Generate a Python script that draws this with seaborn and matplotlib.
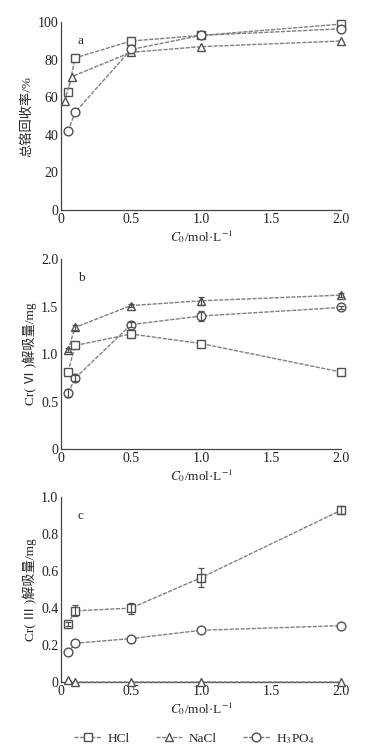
import matplotlib
matplotlib.use("Agg")
import matplotlib.pyplot as plt
from matplotlib.lines import Line2D
import seaborn as sns
import pandas as pd

# data
conc = [0.05, 0.1, 0.5, 1.0, 2.0]
conc_a_nacl = [0.025, 0.075, 0.5, 1.0, 2.0]

# panel a: total chromium recovery (%)
a_hcl = [63, 81, 90, 93, 99]
a_nacl = [58, 71, 84, 87, 90]
a_h3po4 = [42, 52, 85.5, 93, 96.5]

# panel b: Cr(VI) desorbed (mg)
b_hcl = [0.81, 1.09, 1.21, 1.11, 0.81]
b_nacl = [1.04, 1.28, 1.51, 1.56, 1.62]
b_h3po4 = [0.59, 0.745, 1.31, 1.40, 1.49]
b_err_nacl = [0.02, 0.03, 0.02, 0.04, 0.02]
b_err_h3po4 = [0.04, 0.03, 0.03, 0.05, 0.02]

# panel c: Cr(III) desorbed (mg)
c_hcl = [0.315, 0.385, 0.40, 0.565, 0.93]
c_nacl = [0.01, 0.0, 0.0, 0.0, 0.0]
c_h3po4 = [0.16, 0.21, 0.235, 0.28, 0.305]
c_err_hcl = [0.01, 0.03, 0.03, 0.05, 0.02]

series_names = ["HCl", "NaCl", "H$_3$PO$_4$"]
markers = ["s", "^", "o"]

sns.set_theme(style="white")
plt.rcParams["font.family"] = ["Liberation Serif", "Noto Sans CJK SC", "DejaVu Sans"]
plt.rcParams["mathtext.fontset"] = "stix"

fig = plt.figure(figsize=(3.89, 7.54), dpi=100)
ax_a = fig.add_axes([0.157, 0.7215, 0.72, 0.249])
ax_b = fig.add_axes([0.157, 0.4045, 0.72, 0.252])
ax_c = fig.add_axes([0.157, 0.0955, 0.72, 0.245])

line_col = "#808080"
edge_col = "#505050"


def draw(ax, xs, ys, errs=None):
    for x, y, m, e in zip(xs, ys, markers, errs or [None] * 3):
        df = pd.DataFrame({"x": x, "y": y})
        sns.lineplot(data=df, x="x", y="y", ax=ax, color=line_col, lw=1.0,
                     linestyle=(0, (3, 1)), marker=m, markersize=6.3,
                     markerfacecolor="white", markeredgecolor=edge_col,
                     markeredgewidth=1.0, clip_on=False, zorder=3)
        if e is not None:
            ax.errorbar(x, y, yerr=e, fmt="none", ecolor=edge_col,
                        elinewidth=0.9, capsize=2, capthick=0.9,
                        clip_on=False, zorder=4)


draw(ax_a, [conc, conc_a_nacl, conc], [a_hcl, a_nacl, a_h3po4])
draw(ax_b, [conc, conc, conc], [b_hcl, b_nacl, b_h3po4],
     [None, b_err_nacl, b_err_h3po4])
draw(ax_c, [conc, conc, conc], [c_hcl, c_nacl, c_h3po4],
     [c_err_hcl, None, None])

xlabel = r"$C_0$/mol·L$^{-1}$"
panels = [
    (ax_a, "a", "总铬回收率/%", [0, 20, 40, 60, 80, 100], ["0", "20", "40", "60", "80", "100"], 100),
    (ax_b, "b", "Cr( Ⅵ )解吸量/mg", [0, 0.5, 1.0, 1.5, 2.0], ["0", "0.5", "1.0", "1.5", "2.0"], 2.0),
    (ax_c, "c", "Cr( Ⅲ )解吸量/mg", [0, 0.2, 0.4, 0.6, 0.8, 1.0], ["0", "0.2", "0.4", "0.6", "0.8", "1.0"], 1.0),
]
for ax, letter, ylab, yt, ytl, ymax in panels:
    ax.set_xlim(0, 2.0)
    ax.set_ylim(0, ymax)
    ax.set_xticks([0, 0.5, 1.0, 1.5, 2.0])
    ax.set_xticklabels(["0", "0.5", "1.0", "1.5", "2.0"])
    ax.set_yticks(yt)
    ax.set_yticklabels(ytl)
    ax.set_xlabel(xlabel, fontsize=9.5, labelpad=2)
    ax.set_ylabel(ylab, fontsize=9.5, labelpad=3)
    ax.tick_params(direction="in", length=3, width=0.8, labelsize=10,
                   colors="#222222", pad=2)
    for s in ["top", "right"]:
        ax.spines[s].set_visible(False)
    for s in ["left", "bottom"]:
        ax.spines[s].set_color("#444444")
        ax.spines[s].set_linewidth(0.9)
    ax.text(0.06, 0.93, letter, transform=ax.transAxes, fontsize=9.5,
            va="top", ha="left")

handles = [Line2D([0], [0], color=line_col, lw=1.0, linestyle=(0, (3, 1)),
                  marker=m, markersize=6.3, markerfacecolor="white",
                  markeredgecolor=edge_col) for m in markers]
fig.legend(handles, series_names, loc="lower center", ncol=3, frameon=False,
           bbox_to_anchor=(0.5, -0.005), fontsize=9.5, handlelength=2.0,
           columnspacing=2.0, handletextpad=0.5)

fig.savefig("out.png", dpi=100)
